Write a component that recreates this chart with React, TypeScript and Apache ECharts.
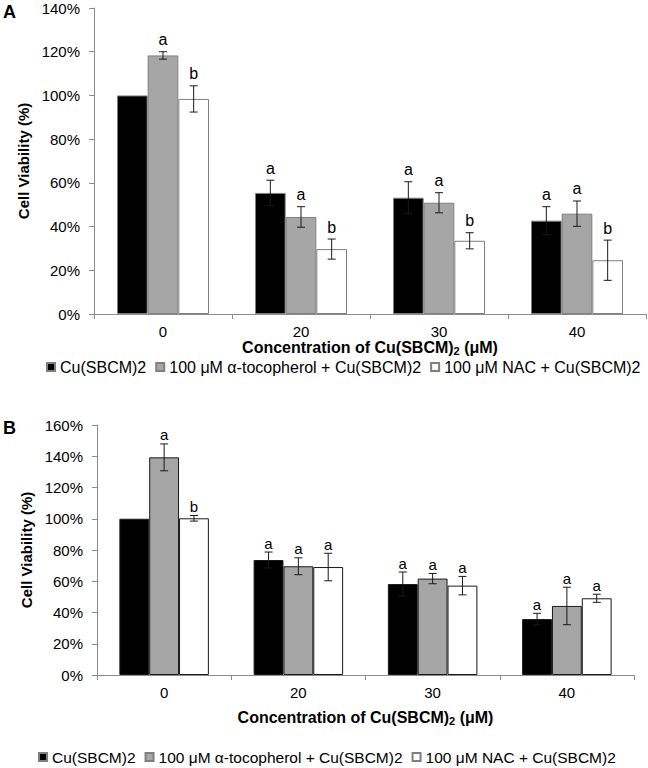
import React, { useEffect, useRef } from "react";
import * as echarts from "echarts";

const categories = ["0", "20", "30", "40"];
const seriesNames = [
  "Cu(SBCM)2",
  "100 μM α-tocopherol + Cu(SBCM)2",
  "100 μM NAC + Cu(SBCM)2",
];
const yTicksA = { min: 0, max: 140, interval: 20 };
const yTicksB = { min: 0, max: 160, interval: 20 };

// Panel A
const cuA = [100, 55.4, 53.2, 42.7];
const cuErrA = [0, 5.8, 7.3, 6.4];
const tocA = [118.3, 44.4, 50.9, 45.9];
const tocErrA = [1.7, 4.7, 4.6, 5.8];
const nacA = [98.4, 29.7, 33.5, 24.6];
const nacErrA = [6.0, 4.6, 3.7, 9.2];
const cuLetA = ["", "a", "a", "a"];
const tocLetA = ["a", "a", "a", "a"];
const nacLetA = ["b", "b", "b", "b"];

// Panel B
const cuB = [100, 73.6, 58.2, 35.8];
const cuErrB = [0, 5.1, 7.7, 3.7];
const tocB = [139.3, 69.6, 61.7, 44.2];
const tocErrB = [8.6, 5.4, 3.3, 12.0];
const nacB = [100.3, 69.1, 57.2, 49.1];
const nacErrB = [1.8, 8.8, 5.9, 2.6];
const cuLetB = ["", "a", "a", "a"];
const tocLetB = ["a", "a", "a", "a"];
const nacLetB = ["b", "a", "a", "a"];

const FONT = "'Liberation Sans', Arial, Helvetica, sans-serif";
const FILLS = ["#000000", "#a6a6a6", "#ffffff"];
const CAT_GAP = 0.3333;

function buildErr(vals: number[][], errs: number[][], lets: string[][]) {
  const rows: number[][] = [];
  const letters: string[] = [];
  for (let k = 0; k < vals.length; k++) {
    for (let c = 0; c < categories.length; c++) {
      rows.push([c, k, vals[k][c], errs[k][c]]);
      letters.push(lets[k][c]);
    }
  }
  return { rows, letters };
}

function errSeries(
  gridIdx: number,
  rows: number[][],
  letters: string[],
  letterSize: number,
  letterOffset: number
) {
  return {
    type: "custom",
    xAxisIndex: gridIdx,
    yAxisIndex: gridIdx,
    z: 5,
    silent: true,
    encode: { x: 0, y: 2 },
    data: rows,
    renderItem: (params: any, api: any) => {
      const c = api.value(0);
      const k = api.value(1);
      const v = api.value(2);
      const e = api.value(3);
      const band = api.size([1, 0])[0];
      const bw = (band * (1 - CAT_GAP)) / 3;
      const center = api.coord([c, v]);
      const x = center[0] + (k - 1) * bw;
      const top = api.coord([c, v + e])[1];
      const bot = api.coord([c, v - e])[1];
      const children: any[] = [];
      const ls = { stroke: "#1a1a1a", lineWidth: 1 };
      if (e > 0) {
        children.push({ type: "line", shape: { x1: x, y1: top, x2: x, y2: bot }, style: ls });
        children.push({ type: "line", shape: { x1: x - 4, y1: top, x2: x + 4, y2: top }, style: ls });
        children.push({ type: "line", shape: { x1: x - 4, y1: bot, x2: x + 4, y2: bot }, style: ls });
      }
      const letter = letters[params.dataIndex];
      if (letter) {
        children.push({
          type: "text",
          style: {
            text: letter,
            x,
            y: top - letterOffset,
            align: "center",
            verticalAlign: "middle",
            fontSize: letterSize,
            fontFamily: FONT,
            fill: "#000",
          },
        });
      }
      return { type: "group", children };
    },
  };
}

function barSeries(gridIdx: number, vals: number[][], border: string) {
  return vals.map((d, k) => ({
    type: "bar",
    name: seriesNames[k],
    xAxisIndex: gridIdx,
    yAxisIndex: gridIdx,
    data: d,
    barGap: "0%",
    barCategoryGap: "33.33%",
    itemStyle: { color: FILLS[k], borderColor: border, borderWidth: 1 },
  }));
}

const axisGray = "#8c8c8c";

function xAxisCfg(gridIdx: number, nameGap: number) {
  return {
    gridIndex: gridIdx,
    type: "category",
    data: categories,
    axisLine: { lineStyle: { color: axisGray, width: 1 } },
    axisTick: { show: true, length: 5, lineStyle: { color: axisGray } },
    axisLabel: { fontSize: 15, color: "#000", margin: 10, fontFamily: FONT },
    name: "{b|Concentration of Cu(SBCM)}{s|2}{b| (μM)}",
    nameLocation: "middle",
    nameGap,
    nameTextStyle: {
      rich: {
        b: { fontSize: 16, fontWeight: "bold", color: "#000", fontFamily: FONT, lineHeight: 17 },
        s: { fontSize: 11, fontWeight: "bold", color: "#000", fontFamily: FONT, verticalAlign: "bottom", lineHeight: 11 },
      },
    },
  };
}

function yAxisCfg(gridIdx: number, t: { min: number; max: number; interval: number }) {
  return {
    gridIndex: gridIdx,
    type: "value",
    min: t.min,
    max: t.max,
    interval: t.interval,
    axisLine: { show: true, lineStyle: { color: axisGray, width: 1 } },
    axisTick: { show: true, length: 5, lineStyle: { color: axisGray } },
    splitLine: { show: false },
    axisLabel: { formatter: "{value}%", fontSize: 15, color: "#000", margin: 14, fontFamily: FONT },
    name: "Cell Viability (%)",
    nameLocation: "middle",
    nameGap: 51,
    nameTextStyle: { fontSize: 15, fontWeight: "bold", color: "#000", fontFamily: FONT },
  };
}

export default function App() {
  const ref = useRef<HTMLDivElement>(null);
  useEffect(() => {
    if (!ref.current) return;
    const chart = echarts.init(ref.current, undefined, { renderer: "svg" });
    const errA = buildErr([cuA, tocA, nacA], [cuErrA, tocErrA, nacErrA], [cuLetA, tocLetA, nacLetA]);
    const errB = buildErr([cuB, tocB, nacB], [cuErrB, tocErrB, nacErrB], [cuLetB, tocLetB, nacLetB]);
    const legendCommon = {
      data: seriesNames,
      icon: "rect",
      itemWidth: 8,
      itemHeight: 8,
      itemGap: 9,
      padding: 0,
      width: 620,
      orient: "horizontal",
      selectedMode: false,
    };
    chart.setOption({
      animation: false,
      backgroundColor: "#ffffff",
      textStyle: { fontFamily: FONT },
      grid: [
        { left: 94, top: 8, width: 552, height: 306 },
        { left: 97, top: 425, width: 537, height: 250 },
      ],
      xAxis: [xAxisCfg(0, 22), xAxisCfg(1, 34)],
      yAxis: [yAxisCfg(0, yTicksA), yAxisCfg(1, yTicksB)],
      legend: [
        {
          ...legendCommon,
          left: 46,
          top: 359,
          textStyle: { fontSize: 16, color: "#000", fontFamily: FONT },
        },
        {
          ...legendCommon,
          left: 38,
          top: 749,
          textStyle: { fontSize: 15.5, color: "#000", fontFamily: FONT },
        },
      ],
      graphic: [
        { type: "text", left: 3, top: 3, style: { text: "A", fontSize: 18, fontWeight: "bold", fontFamily: FONT, fill: "#000" } },
        { type: "text", left: 3, top: 419, style: { text: "B", fontSize: 18, fontWeight: "bold", fontFamily: FONT, fill: "#000" } },
      ],
      series: [
        ...barSeries(0, [cuA, tocA, nacA], "#7f7f7f"),
        ...barSeries(1, [cuB, tocB, nacB], "#1a1a1a"),
        errSeries(0, errA.rows, errA.letters, 16, 12),
        errSeries(1, errB.rows, errB.letters, 15, 9),
      ],
    });
    return () => chart.dispose();
  }, []);
  return (
    <div
      ref={ref}
      style={{ position: "fixed", left: 0, top: 0, width: 648, height: 768, background: "#fff" }}
    />
  );
}
